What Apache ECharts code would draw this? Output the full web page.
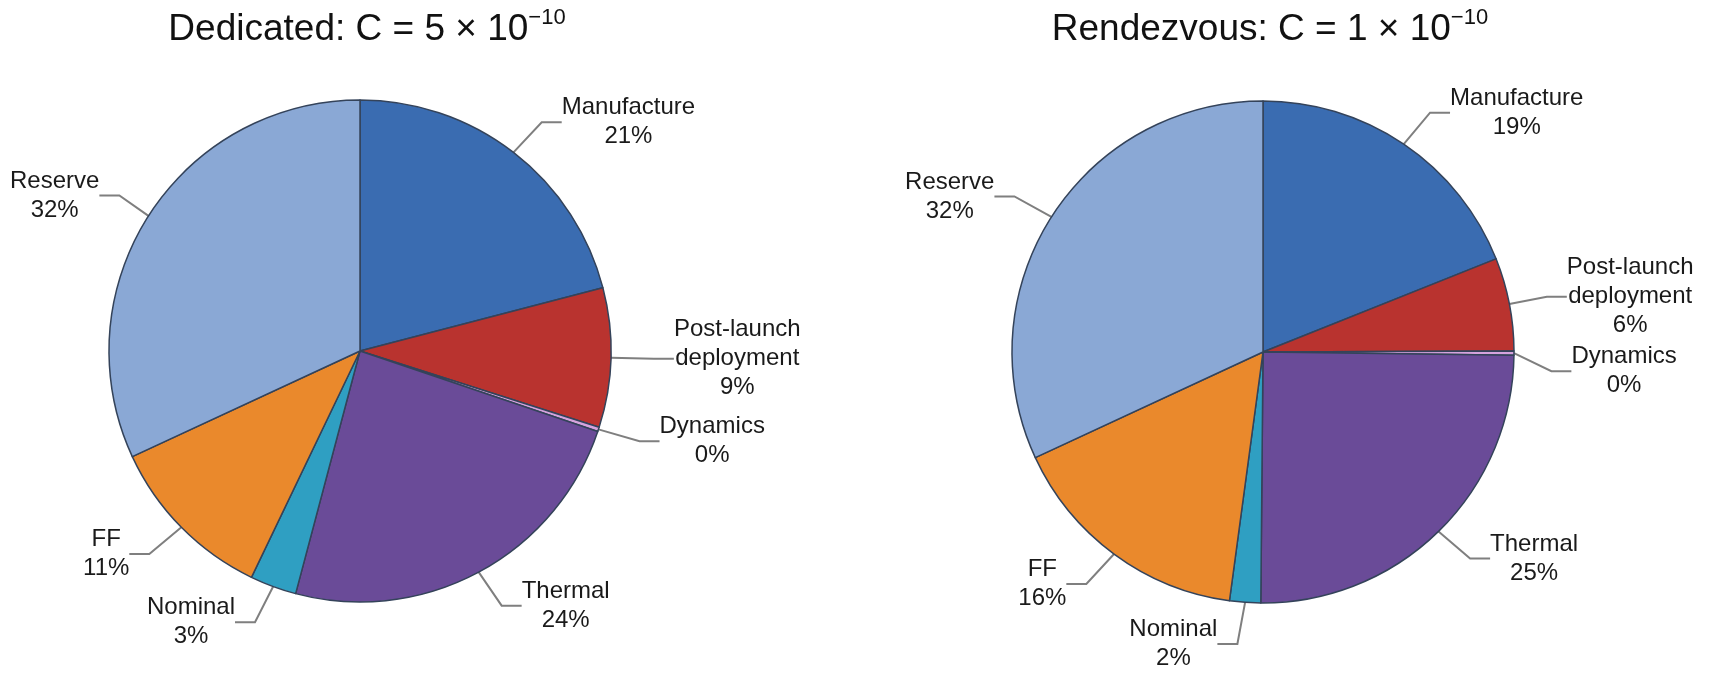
<!DOCTYPE html>
<html>
<head>
<meta charset="utf-8">
<script src="https://cdn.jsdelivr.net/npm/echarts@6/dist/echarts.min.js"></script>
<style>
  html, body { margin: 0; padding: 0; background: #fff; }
  #main { width: 1727px; height: 674px; }
</style>
</head>
<body>
<div id="main"></div>
<script>
// 数据
var categories = ['Manufacture', 'Post-launch\ndeployment', 'Dynamics', 'Thermal', 'Nominal', 'FF', 'Reserve'];
var dedicatedValues = [21, 9, 0, 24, 3, 11, 32];
var rendezvousValues = [19, 6, 0, 25, 2, 16, 32];
var titleMain = ['Dedicated: C = 5 × 10', 'Rendezvous: C = 1 × 10'];
var titleExp = ['−10', '−10'];

var sliceColors = ['#3a6cb1', '#b9332f', '#d6a3de', '#6a4b98', '#2f9fc2', '#ea892c', '#8aa8d5'];
var fontFamily = '"Liberation Sans", Arial, sans-serif';

function buildData(values) {
    var data = [];
    for (var i = 0; i < categories.length; i++) {
        data.push({ name: categories[i], value: values[i], itemStyle: { color: sliceColors[i] } });
    }
    return data;
}

function makeTitle(idx, x) {
    return {
        text: '{m|' + titleMain[idx] + '}{s|' + titleExp[idx] + '}',
        left: x,
        top: 2,
        textAlign: 'center',
        textStyle: {
            rich: {
                m: { fontFamily: fontFamily, fontSize: 37, fontWeight: 'normal', color: '#111', lineHeight: 46 },
                s: { fontFamily: fontFamily, fontSize: 22, fontWeight: 'normal', color: '#111', verticalAlign: 'top', lineHeight: 30 }
            }
        }
    };
}

function makePie(values, center) {
    return {
        type: 'pie',
        center: center,
        radius: 251,
        startAngle: 90,
        clockwise: true,
        minAngle: 1,
        animation: false,
        avoidLabelOverlap: true,
        data: buildData(values),
        itemStyle: {
            borderColor: '#34435a',
            borderWidth: 1.5
        },
        label: {
            formatter: '{b}\n{c}%',
            fontFamily: fontFamily,
            fontSize: 24,
            lineHeight: 29,
            color: '#1a1a1a',
            overflow: 'none'
        },
        labelLine: {
            length: 38,
            length2: 20,
            smooth: false,
            lineStyle: { color: '#7f7f7f', width: 2 }
        },
        // 文字居中，且不要超出左边界
        labelLayout: function (p) {
            var r = p.labelRect;
            var left = Math.max(r.x, 10);
            return { x: left + r.width / 2, y: r.y + r.height / 2, align: 'center', verticalAlign: 'middle' };
        },
        emphasis: { disabled: true }
    };
}

var chart = echarts.init(document.getElementById('main'));
chart.setOption({
    backgroundColor: '#fff',
    title: [makeTitle(0, 362), makeTitle(1, 1265)],
    series: [
        makePie(dedicatedValues, [360, 351]),
        makePie(rendezvousValues, [1263, 352])
    ]
});
</script>
</body>
</html>
